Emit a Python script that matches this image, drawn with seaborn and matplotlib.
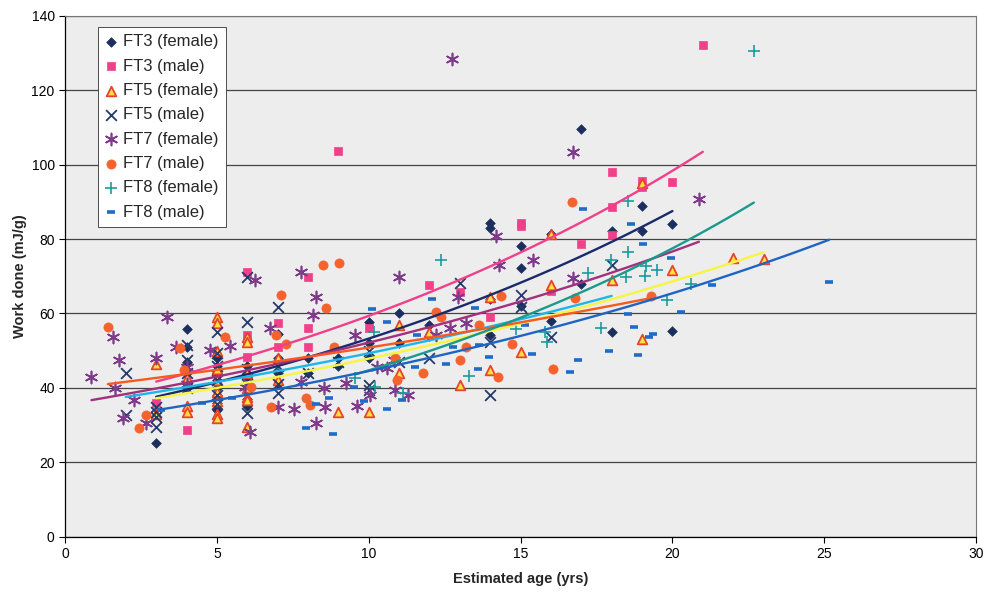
import numpy as np
import pandas as pd
import matplotlib
matplotlib.use("Agg")
import matplotlib.pyplot as plt
import seaborn as sns

# --- data ---
series_names = ["FT3 (female)", "FT3 (male)", "FT5 (female)", "FT5 (male)",
                "FT7 (female)", "FT7 (male)", "FT8 (female)", "FT8 (male)"]

ft3_f_age = [3, 4, 4, 4, 4, 4, 5, 5, 5, 5, 5, 5, 5, 5, 6, 6, 6, 6, 6, 7, 7, 7, 7, 8, 8, 9, 9,
             10, 10, 10, 11, 11, 12, 12, 14, 14, 14, 14, 15, 15, 15, 16, 16, 17, 17, 18, 18,
             19, 19, 20, 20]
ft3_f_work = [25.3, 55.7, 51, 47, 44, 40, 48, 46, 44, 42, 40, 38, 36, 34, 46, 43, 40, 37, 35,
              54.5, 48, 44, 41, 48, 44, 48, 46, 57.8, 52, 48, 60.2, 52, 57, 54, 84.3, 83, 64,
              54.2, 78.2, 72.3, 62, 81.3, 58, 109.5, 68, 82.2, 55, 89, 82.2, 84, 55.3]

ft3_m_age = [3, 4, 6, 6, 6, 6, 7, 7, 8, 8, 8, 9, 10, 12, 13, 14, 15, 15, 16, 17, 18, 18, 18,
             19, 19, 20, 21]
ft3_m_work = [36, 28.7, 71.2, 54.2, 52.4, 48.4, 57.4, 51.1, 69.8, 56, 50.9, 103.8, 56, 67.7,
              65.7, 59, 84.2, 83.5, 66.1, 78.6, 98.1, 88.5, 81.1, 95.5, 94, 95.4, 132.2]

ft5_f_age = [3, 3, 4, 4, 4, 5, 5, 5, 5, 5, 5, 5, 5, 5, 6, 6, 6, 6, 6, 6, 6, 7, 7, 9, 10, 11,
             11, 12, 13, 14, 14, 15, 16, 16, 18, 19, 19, 20, 22, 23]
ft5_f_work = [46.3, 33, 42.6, 35.1, 33.6, 59.1, 57.5, 50, 45, 42, 39, 36.5, 33, 31.8, 53.7,
              52.4, 44, 40, 37.6, 36.7, 29.6, 48, 42, 33.6, 33.6, 56.9, 43.9, 55.1, 40.8, 64.5,
              44.8, 49.7, 67.7, 81.3, 69, 95, 53.1, 71.7, 74.8, 74.6]

ft5_m_age = [2, 2, 3, 3, 3, 3, 4, 4, 4, 4, 5, 5, 5, 5, 5, 5, 6, 6, 6, 6, 6, 7, 7, 7, 7, 8, 9,
             10, 10, 10, 11, 12, 13, 14, 14, 15, 15, 16, 18]
ft5_m_work = [43.9, 32.7, 34.9, 33.5, 32.3, 29.6, 51.5, 47.5, 44, 40, 55.1, 49.4, 46, 42, 38,
              35.8, 69.9, 57.8, 45, 41, 33.2, 61.8, 46, 41, 38.5, 44, 47, 50, 40.8, 39.5, 47,
              48, 68.1, 52.4, 38.1, 65, 61.8, 53.8, 73]

ft7_f_age = [0.87, 1.57, 1.63, 1.79, 1.9, 2.28, 2.66, 2.99, 3.37, 3.64, 4.02, 4.02, 4.78,
             5.43, 5.92, 6.09, 6.25, 6.76, 7.01, 7.55, 7.77, 7.77, 8.15, 8.26, 8.26, 8.53,
             8.55, 9.24, 9.56, 9.62, 10.03, 10.27, 10.6, 10.82, 10.87, 11.0, 11.3, 12.23,
             12.66, 12.75, 12.93, 13.2, 14.18, 14.29, 15.42, 16.71, 16.74, 20.87]
ft7_f_work = [43, 53.8, 39.9, 47.5, 31.8, 36.7, 30.5, 48, 59.1, 50.9, 45.7, 41, 50.2, 51.3,
              40.3, 28.2, 69, 56, 34.9, 34.3, 71.2, 41.5, 59.6, 64.5, 30.5, 39.9, 34.9, 41.2,
              54.2, 35.1, 38.1, 45.7, 45.3, 47.5, 39.4, 69.9, 38.1, 54.2, 56, 128.4, 64.5,
              57.4, 80.9, 73, 74.4, 103.5, 69.5, 90.8]

ft7_m_age = [1.41, 2.45, 2.66, 3.8, 3.91, 5.27, 6.12, 6.79, 6.93, 7.1, 7.28, 7.93, 8.08, 8.48,
             8.59, 8.86, 9.02, 10.87, 10.92, 11.79, 12.2, 12.39, 12.99, 13.2, 13.64, 14.27,
             14.35, 14.73, 16.08, 16.68, 16.79, 19.29]
ft7_m_work = [56.5, 29.1, 32.7, 50.6, 44.9, 53.7, 40.3, 34.9, 54.1, 65, 51.8, 37.2, 35.4, 73,
              61.4, 51.1, 73.5, 48, 42.1, 43.9, 60.5, 59.1, 47.5, 50.9, 56.9, 42.8, 64.7, 51.8,
              45, 90, 64.1, 64.7]

ft8_f_age = [9.56, 10.16, 10.22, 11.14, 12.39, 13.31, 14.84, 15.81, 15.87, 17.22, 17.66, 17.99,
             18.48, 18.53, 18.53, 19.1, 19.13, 19.5, 19.81, 20.6, 22.68]
ft8_f_work = [42.6, 55.1, 40.3, 38.5, 74.4, 43.2, 55.7, 55.1, 52.4, 70.8, 56.1, 74.4, 69.9,
              76.6, 90.3, 70.1, 72.8, 71.7, 63.6, 67.9, 130.6]

ft8_m_age = [3.15, 4.5, 5.49, 7.95, 8.26, 8.7, 8.83, 9.51, 9.84, 10.11, 10.6, 10.6, 11.1,
             11.52, 11.6, 12.09, 12.55, 12.77, 13.51, 13.59, 13.64, 13.97, 15.14, 15.38,
             16.63, 16.88, 17.06, 17.9, 18.53, 18.63, 18.75, 18.86, 19.02, 19.24, 19.35,
             19.96, 20.27, 21.3, 25.16]
ft8_m_work = [34.1, 36.0, 37.2, 29.1, 35.6, 37.4, 27.7, 40.2, 36.5, 61.3, 57.8, 34.4, 36.8,
              45.5, 54.2, 63.9, 46.4, 50.9, 61.4, 45, 51.5, 48.2, 56.9, 49, 44.4, 47.5, 88,
              49.8, 59.9, 84.1, 56.5, 48.9, 78.6, 53.8, 54.5, 74.8, 60.4, 67.7, 68.5]

# exponential trendlines (y = a * exp(b * x))
trend_a = [32.4, 35.83, 33.4, 35.1, 35.5, 39.6, 25.8, 30.3]
trend_b = [0.0497, 0.0505, 0.036, 0.034, 0.0385, 0.025, 0.055, 0.0385]

ages = [ft3_f_age, ft3_m_age, ft5_f_age, ft5_m_age, ft7_f_age, ft7_m_age, ft8_f_age, ft8_m_age]
works = [ft3_f_work, ft3_m_work, ft5_f_work, ft5_m_work, ft7_f_work, ft7_m_work, ft8_f_work, ft8_m_work]

df = pd.concat([pd.DataFrame({"age": a, "work": w, "series": n})
                for a, w, n in zip(ages, works, series_names)], ignore_index=True)

# --- styles ---
marker_styles = {
    "FT3 (female)": dict(marker="D", s=24, color="#1b2f5e", edgecolor="#1b2f5e", linewidth=0.5),
    "FT3 (male)": dict(marker="s", s=36, color="#f0408a", edgecolor="#f0408a", linewidth=0.5),
    "FT5 (female)": dict(marker="^", s=48, color="#ffe040", edgecolor="#e8422a", linewidth=1.3),
    "FT5 (male)": dict(marker="x", s=60, color="#233a6b", linewidth=1.3),
    "FT7 (female)": dict(marker=(6, 2, 0), s=75, color="#7f3a8c", linewidth=1.2),
    "FT7 (male)": dict(marker="o", s=44, color="#f4622e", edgecolor="#f4622e", linewidth=0.5),
    "FT8 (female)": dict(marker="+", s=70, color="#1b9c9c", linewidth=1.2),
    "FT8 (male)": dict(marker="_", s=36, color="#1e6bc8", linewidth=2.6),
}
trend_colors = ["#1b2a6b", "#f0408a", "#f5f542", "#1fb5e8",
                "#a3307e", "#f55a1e", "#1a9a8c", "#1e64c0"]

sns.set_theme(style="white")
plt.rcParams["font.family"] = ["Liberation Sans", "DejaVu Sans"]

fig = plt.figure(figsize=(9.87, 5.94), dpi=100)
ax = fig.add_axes([0.0659, 0.0965, 0.9231, 0.8767])
ax.set_facecolor("#ededed")

for name in series_names:
    sub = df[df["series"] == name]
    sns.scatterplot(data=sub, x="age", y="work", ax=ax, label=name, zorder=3,
                    **marker_styles[name])

# trendlines over each series' age range
for i, name in enumerate(series_names):
    sub = df[df["series"] == name]
    xs = np.linspace(sub["age"].min(), sub["age"].max(), 60)
    ys = trend_a[i] * np.exp(trend_b[i] * xs)
    sns.lineplot(x=xs, y=ys, ax=ax, color=trend_colors[i], linewidth=1.7,
                 legend=False, zorder=4)

ax.set_xlim(0, 30)
ax.set_ylim(0, 140)
ax.set_xticks(range(0, 31, 5))
ax.set_yticks(range(0, 141, 20))
ax.yaxis.grid(True, color="#444444", linewidth=0.9)
ax.xaxis.grid(False)
ax.set_axisbelow(True)
ax.tick_params(axis="both", direction="out", length=4, width=0.8, labelsize=10,
               colors="black", left=True, bottom=True)
for side in ["left", "bottom"]:
    ax.spines[side].set_color("black")
    ax.spines[side].set_linewidth(0.9)
for side in ["top", "right"]:
    ax.spines[side].set_color("#777777")
    ax.spines[side].set_linewidth(0.8)

ax.set_xlabel("Estimated age (yrs)", fontsize=10.5, fontweight="bold", labelpad=8)
ax.set_ylabel("Work done (mJ/g)", fontsize=10.5, fontweight="bold", labelpad=3)

leg = ax.legend(loc="upper left", bbox_to_anchor=(0.036, 0.979), fontsize=12,
                frameon=True, fancybox=False, edgecolor="#333333", framealpha=1,
                facecolor="white", handlelength=0.7, handletextpad=0.35,
                borderpad=0.45, labelspacing=0.56, scatterpoints=1, borderaxespad=0)
leg.get_frame().set_linewidth(0.6)
leg.set_zorder(10)

fig.savefig("out.png", dpi=100)
